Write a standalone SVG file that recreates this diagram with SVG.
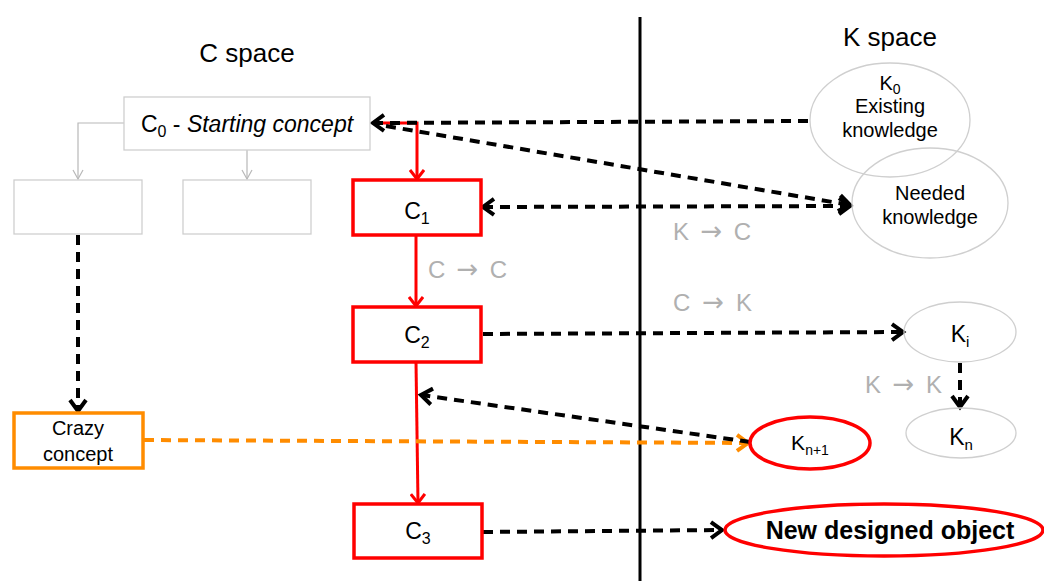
<svg xmlns="http://www.w3.org/2000/svg" width="1044" height="581" viewBox="0 0 1044 581">
<style>
text{font-family:"Liberation Sans",Arial,sans-serif;fill:#000}
.gbox{fill:#fff;stroke:#cfcfcf;stroke-width:1.3}
.rbox{fill:#fff;stroke:#f00;stroke-width:3.5}
.obox{fill:#fff;stroke:#ff8c00;stroke-width:3.5}
.gell{fill:none;stroke:#cfcfcf;stroke-width:1.3}
.rell{fill:#fff;stroke:#f00;stroke-width:3.5}
.lbl{fill:#b0b0b0;font-size:24px}
.arr{font-family:"DejaVu Sans",sans-serif;font-size:26px}
.dash{fill:none;stroke:#000;stroke-width:4;stroke-dasharray:10 7}
.odash{fill:none;stroke:#ff8c00;stroke-width:4;stroke-dasharray:10 7}
.red{fill:none;stroke:#f00;stroke-width:3}
.grey{fill:none;stroke:#b8b8b8;stroke-width:1.2}
</style>
<defs>
<marker id="ab" viewBox="0 0 18 20" markerWidth="18" markerHeight="20" refX="14" refY="10" orient="auto-start-reverse" markerUnits="userSpaceOnUse"><path d="M3,2 L14,10 L3,18" fill="none" stroke="#000" stroke-width="4"/></marker>
<marker id="ar" viewBox="0 0 16 16" markerWidth="16" markerHeight="16" refX="13" refY="8" orient="auto" markerUnits="userSpaceOnUse"><path d="M4,1 L13,8 L4,15" fill="none" stroke="#f00" stroke-width="3"/></marker>
<marker id="ao" viewBox="0 0 18 20" markerWidth="18" markerHeight="20" refX="14" refY="10" orient="auto" markerUnits="userSpaceOnUse"><path d="M3,2 L14,10 L3,18" fill="none" stroke="#ff8c00" stroke-width="4"/></marker>
<marker id="ag" viewBox="0 0 12 12" markerWidth="12" markerHeight="12" refX="11" refY="6" orient="auto" markerUnits="userSpaceOnUse"><path d="M2,1 L11,6 L2,11" fill="none" stroke="#b8b8b8" stroke-width="1.2"/></marker>
</defs>
<rect width="1044" height="581" fill="#fff"/>

<line x1="640" y1="17" x2="640" y2="581" stroke="#000" stroke-width="3"/>
<text x="247" y="62" font-size="26" text-anchor="middle">C space</text>
<text x="890" y="46" font-size="26" text-anchor="middle">K space</text>

<g id="connectors">
<path class="grey" d="M124,123 H78 V179" marker-end="url(#ag)"/>
<path class="grey" d="M247,150 V179" marker-end="url(#ag)"/>
<path class="red" d="M379,123 H417 V179" marker-end="url(#ar)"/>
<path class="red" d="M416,235 V306" marker-end="url(#ar)"/>
<path class="red" d="M416,362 L418,503" marker-end="url(#ar)"/>
<path class="dash" d="M808,121 L373,123" marker-end="url(#ab)"/>
<path class="dash" d="M386,126 L850,205" marker-end="url(#ab)"/>
<path class="dash" d="M483,207 L850,206" marker-start="url(#ab)" marker-end="url(#ab)"/>
<path class="dash" d="M483,334 L903,332" marker-end="url(#ab)"/>
<path class="dash" d="M960,363 V407" marker-end="url(#ab)"/>
<path class="dash" d="M78,235 V411" marker-end="url(#ab)"/>
<path class="odash" d="M144,440 L748,443" marker-end="url(#ao)"/>
<path class="dash" d="M750,442 L421,395" marker-end="url(#ab)"/>
<path class="dash" d="M483,532 L722,530" marker-end="url(#ab)"/>
</g>

<g id="c0"><rect class="gbox" x="124" y="97" width="246" height="53"/>
<text x="247" y="132" font-size="23" text-anchor="middle">C<tspan font-size="16" dy="5">0</tspan><tspan dy="-5"> - </tspan><tspan font-style="italic">Starting concept</tspan></text></g>
<g id="empty1"><rect class="gbox" x="14" y="180" width="128" height="54"/></g>
<g id="empty2"><rect class="gbox" x="183" y="180" width="128" height="54"/></g>
<g id="c1"><rect class="rbox" x="353" y="180" width="128" height="55"/>
<text x="417" y="219" font-size="23" text-anchor="middle">C<tspan font-size="16" dy="5">1</tspan></text></g>
<g id="c2"><rect class="rbox" x="353" y="307" width="128" height="55"/>
<text x="417" y="343" font-size="23" text-anchor="middle">C<tspan font-size="16" dy="5">2</tspan></text></g>
<g id="c3"><rect class="rbox" x="354" y="504" width="128" height="54"/>
<text x="418" y="539" font-size="23" text-anchor="middle">C<tspan font-size="16" dy="5">3</tspan></text></g>
<g id="crazy"><rect class="obox" x="14" y="413" width="129" height="55"/>
<text x="78" y="435" font-size="20" text-anchor="middle">Crazy</text>
<text x="78" y="461" font-size="20" text-anchor="middle">concept</text></g>

<g id="k0"><ellipse class="gell" cx="890" cy="120" rx="80" ry="57"/>
<text x="890" y="90" font-size="20" text-anchor="middle">K<tspan font-size="14" dy="4">0</tspan></text>
<text x="890" y="113" font-size="20" text-anchor="middle">Existing</text>
<text x="890" y="137" font-size="20" text-anchor="middle">knowledge</text></g>
<g id="needed"><ellipse class="gell" cx="930" cy="203" rx="78" ry="55"/>
<text x="930" y="200" font-size="20" text-anchor="middle">Needed</text>
<text x="930" y="224" font-size="20" text-anchor="middle">knowledge</text></g>
<g id="ki"><ellipse class="gell" cx="960" cy="332" rx="56" ry="30"/>
<text x="960" y="342" font-size="23" text-anchor="middle">K<tspan font-size="15" dy="5">i</tspan></text></g>
<g id="kn"><ellipse class="gell" cx="961" cy="433" rx="55" ry="25"/>
<text x="961" y="445" font-size="23" text-anchor="middle">K<tspan font-size="15" dy="5">n</tspan></text></g>
<g id="kn1"><ellipse class="rell" cx="810" cy="443" rx="60" ry="26"/>
<text x="810" y="450" font-size="21" text-anchor="middle">K<tspan font-size="14" dy="5">n+1</tspan></text></g>
<g id="newobj"><ellipse class="rell" cx="884" cy="530" rx="159" ry="26"/>
<text x="890" y="539" font-size="25" font-weight="bold" text-anchor="middle">New designed object</text></g>

<g id="labels">
<text class="lbl" x="673" y="240" textLength="78" lengthAdjust="spacing">K <tspan class="arr">→</tspan> C</text>
<text class="lbl" x="428" y="278" textLength="79" lengthAdjust="spacing">C <tspan class="arr">→</tspan> C</text>
<text class="lbl" x="673" y="311" textLength="79" lengthAdjust="spacing">C <tspan class="arr">→</tspan> K</text>
<text class="lbl" x="865" y="393" textLength="77" lengthAdjust="spacing">K <tspan class="arr">→</tspan> K</text>
</g>
</svg>
